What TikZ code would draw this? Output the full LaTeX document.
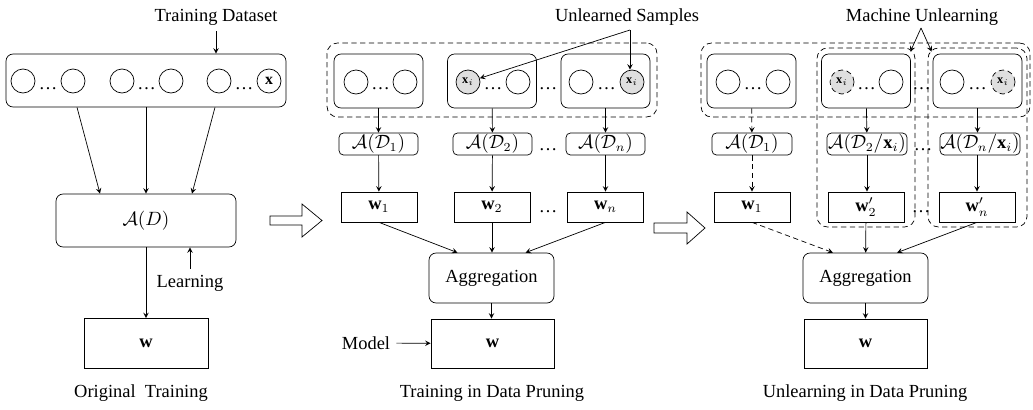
\documentclass[tikz,border=0pt]{standalone}
\usepackage{fontspec}
\setmainfont{Liberation Serif}
\usepackage{amsmath,amssymb}
\begin{document}
\begin{tikzpicture}[x=0.02cm, y=-0.02cm, >=stealth,
    font=\fontsize{10.5}{12.6}\selectfont,
    rbox/.style={draw, rounded corners=4pt, inner sep=0pt},
    abox/.style={draw, rounded corners=2.5pt, inner sep=0pt},
    sbox/.style={draw, inner sep=0pt},
    grp/.style={draw, densely dashed, rounded corners=6pt, inner sep=0pt},
    smp/.style={draw, circle, minimum size=0.48cm, inner sep=0pt},
    xsmp/.style={smp, fill=gray!25, font=\scriptsize},
    dts/.style={inner sep=0pt}]
  \useasboundingbox (0,0) rectangle (1033,409);

  % original training
  \node (tds) at (216,17) {Training Dataset};
  \node[rbox, minimum width=5.6cm, minimum height=1.06cm] (ds) at (146,80.5) {};
  \node[smp] (c1) at (23,81) {};
  \node[smp] (c2) at (73,81) {};
  \node[smp] (c3) at (122,81) {};
  \node[smp] (c4) at (171,81) {};
  \node[smp] (c5) at (219,81) {};
  \node[smp, font=\small] (c6) at (269,81) {$\mathbf{x}$};
  \node[dts] (d1) at (48,89) {\dots};
  \node[dts] (d2) at (146.5,89) {\dots};
  \node[dts] (d3) at (244,89) {\dots};
  \node[rbox, minimum width=3.6cm, minimum height=1.06cm] (ad) at (146,220.5) {$\mathcal{A}(D)$};
  \node[sbox, minimum width=2.48cm, minimum height=1cm] (w0) at (146,343.5) {$\mathbf{w}$};
  \node (lrn) at (190,283) {Learning};
  \node (t1) at (141,393) {Original\ \ Training};
  \coordinate (td) at (216,31);
  \draw[->] (td) -- (td |- ds.north);
  \draw[->] ([xshift=-1.38cm]ds.south) -- ([xshift=-0.92cm]ad.north);
  \draw[->] (ds) -- (ad);
  \draw[->] ([xshift=1.38cm]ds.south) -- ([xshift=0.92cm]ad.north);
  \draw[->] (ad) -- (w0);
  \draw[->] (lrn.north) -- (lrn |- ad.south);

  % hollow arrows
  \draw (270,216) -- (302,216) -- (302,204) -- (322,220.5) -- (302,237) -- (302,225) -- (270,225) -- cycle;
  \draw (654,223) -- (687,223) -- (687,212) -- (705,228) -- (687,244) -- (687,233) -- (654,233) -- cycle;

  % training in data pruning
  \node (tus) at (627,17) {Unlearned Samples};
  \node[grp, minimum width=6.6cm, minimum height=1.48cm] (g2) at (492,80) {};
  \node[rbox, minimum width=1.78cm, minimum height=1.08cm] (p1) at (378.5,81) {};
  \node[rbox, minimum width=1.78cm, minimum height=1.08cm] (p2) at (492,81) {};
  \node[rbox, minimum width=1.78cm, minimum height=1.08cm] (p3) at (605.5,81) {};
  \node[smp] (p1a) at (356,82) {};
  \node[smp] (p1b) at (405,82) {};
  \node[xsmp] (p2a) at (468,82) {$\mathbf{x}_i$};
  \node[smp] (p2b) at (518,82) {};
  \node[smp] (p3a) at (581,82) {};
  \node[xsmp] (p3b) at (632,82) {$\mathbf{x}_i$};
  \node[dts] at (380.5,89) {\dots};
  \node[dts] at (493,89) {\dots};
  \node[dts] at (548,89) {\dots};
  \node[dts] at (606.5,89) {\dots};
  \node[abox, minimum width=1.58cm, minimum height=0.44cm] (a1) at (378.5,144) {$\mathcal{A}(\mathcal{D}_1)$};
  \node[abox, minimum width=1.58cm, minimum height=0.44cm] (a2) at (492.5,144) {$\mathcal{A}(\mathcal{D}_2)$};
  \node[abox, minimum width=1.58cm, minimum height=0.44cm] (a3) at (605.5,144) {$\mathcal{A}(\mathcal{D}_n)$};
  \node[dts] at (548,150) {\dots};
  \node[sbox, minimum width=1.52cm, minimum height=0.6cm] (w1) at (379,207) {$\mathbf{w}_1$};
  \node[sbox, minimum width=1.52cm, minimum height=0.6cm] (w2) at (492,207) {$\mathbf{w}_2$};
  \node[sbox, minimum width=1.52cm, minimum height=0.6cm] (w3) at (605.5,207) {$\mathbf{w}_n$};
  \node[dts] at (548,212) {\dots};
  \node[rbox, minimum width=2.5cm, minimum height=1cm] (ag) at (491.5,278) {Aggregation};
  \node[sbox, minimum width=2.46cm, minimum height=0.98cm] (wm) at (492.5,343.5) {$\mathbf{w}$};
  \node (mdl) at (366,343) {Model};
  \node (t2) at (492,393) {Training in Data Pruning};
  \coordinate (us) at (630,30);
  \draw[->] (us) -- (p2a);
  \draw[->] (us) -- (us |- p3b.north);
  \draw[->] (p1) -- (a1);
  \draw[->] (p2) -- (a2);
  \draw[->] (p3) -- (a3);
  \draw[->] (a1) -- (w1);
  \draw[->] (a2) -- (w2);
  \draw[->] (a3) -- (w3);
  \draw[->] (w1.south) -- ([xshift=-0.68cm]ag.north);
  \draw[->] (w2) -- (w2 |- ag.north);
  \draw[->] (w3.south) -- ([xshift=0.68cm]ag.north);
  \draw[->] (ag) -- (ag |- wm.north);
  \draw[->] (mdl) -- (wm);

  % unlearning in data pruning
  \node (tmu) at (922,17) {Machine Unlearning};
  \node[grp, minimum width=6.58cm, minimum height=1.48cm] (g3) at (865.5,80) {};
  \node[grp, minimum width=1.96cm, minimum height=3.58cm] (ta) at (866,137.5) {};
  \node[grp, minimum width=1.98cm, minimum height=3.58cm] (tb) at (977.5,137.5) {};
  \node[rbox, minimum width=1.78cm, minimum height=1.08cm] (q1) at (751.5,81) {};
  \node[rbox, minimum width=1.78cm, minimum height=1.08cm] (q2) at (866,81) {};
  \node[rbox, minimum width=1.78cm, minimum height=1.08cm] (q3) at (977.5,81) {};
  \node[smp] (q1a) at (728,82) {};
  \node[smp] (q1b) at (778,82) {};
  \node[xsmp, densely dashed] (q2a) at (842,82) {$\mathbf{x}_i$};
  \node[smp] (q2b) at (891,82) {};
  \node[smp] (q3a) at (952,82) {};
  \node[xsmp, densely dashed] (q3b) at (1003,82) {$\mathbf{x}_i$};
  \node[dts] at (753,89) {\dots};
  \node[dts] at (866.5,89) {\dots};
  \node[dts] at (921.5,89) {\dots};
  \node[dts] at (977.5,89) {\dots};
  \node[abox, minimum width=1.6cm, minimum height=0.44cm] (b1) at (752,144) {$\mathcal{A}(\mathcal{D}_1)$};
  \node[abox, minimum width=1.6cm, minimum height=0.44cm] (b2) at (867,144) {$\mathcal{A}(\mathcal{D}_2/\mathbf{x}_i)$};
  \node[abox, minimum width=1.6cm, minimum height=0.44cm] (b3) at (980,144) {$\mathcal{A}(\mathcal{D}_n/\mathbf{x}_i)$};
  \node[dts] at (923,150) {\dots};
  \node[sbox, minimum width=1.52cm, minimum height=0.6cm] (v1) at (752,207) {$\mathbf{w}_1$};
  \node[sbox, minimum width=1.52cm, minimum height=0.6cm] (v2) at (866,207) {$\mathbf{w}'_2$};
  \node[sbox, minimum width=1.52cm, minimum height=0.6cm] (v3) at (977,207) {$\mathbf{w}'_n$};
  \node[dts] at (921,212) {\dots};
  \node[rbox, minimum width=2.5cm, minimum height=1cm] (bg) at (865.5,278) {Aggregation};
  \node[sbox, minimum width=2.46cm, minimum height=0.98cm] (wu) at (865.5,343.5) {$\mathbf{w}$};
  \node (t3) at (865,393) {Unlearning in Data Pruning};
  \coordinate (mu) at (921,28);
  \draw[->] (mu) -- ([xshift=-0.1cm, yshift=-0.08cm]ta.north east);
  \draw[->] (mu) -- ([xshift=0.08cm, yshift=-0.08cm]tb.north west);
  \draw[->, densely dashed] (q1) -- (b1);
  \draw[->] (q2) -- (b2);
  \draw[->] (q3) -- (q3 |- b3.north);
  \draw[->, densely dashed] (b1) -- (v1);
  \draw[->] (b2) -- (b2 |- v2.north);
  \draw[->] (b3.south -| v3) -- (v3);
  \draw[->, densely dashed] (v1.south) -- ([xshift=-0.65cm]bg.north);
  \draw[->] (v2) -- (bg);
  \draw[->] (v3.south) -- ([xshift=0.63cm]bg.north);
  \draw[->] (bg) -- (wu);
\end{tikzpicture}
\end{document}
